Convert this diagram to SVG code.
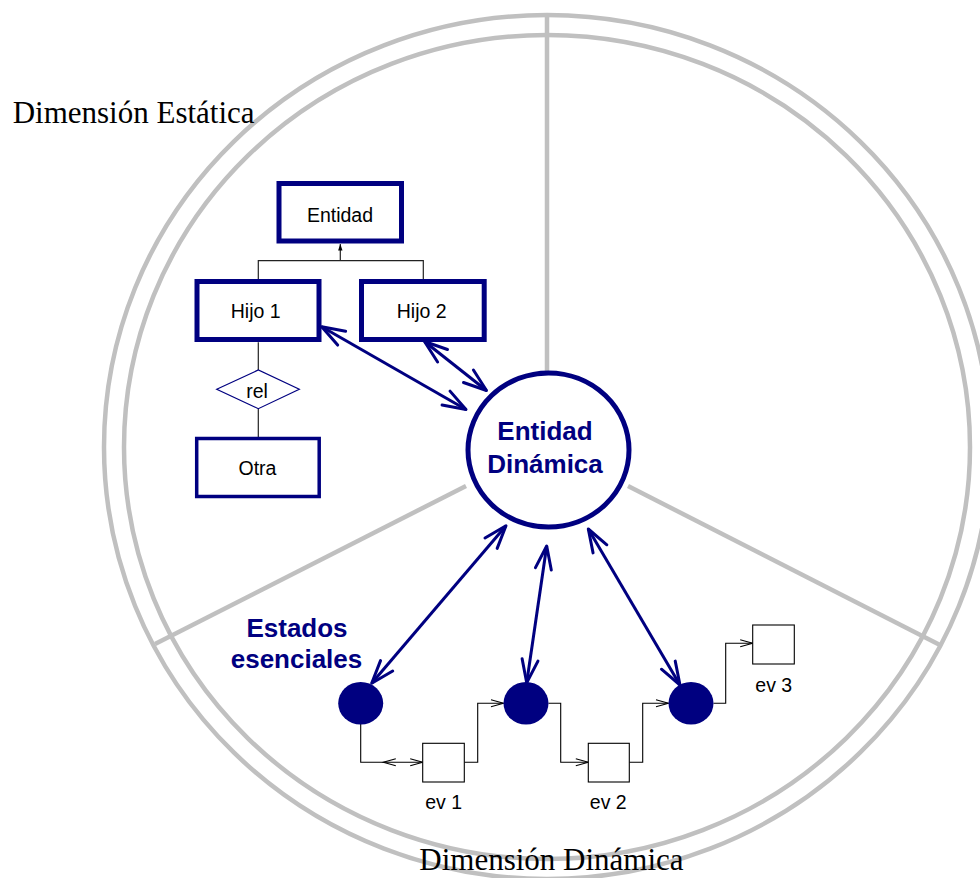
<svg xmlns="http://www.w3.org/2000/svg" width="980" height="878" viewBox="0 0 980 878">
  <style>
    .ring { fill: none; stroke: #c0c0c0; stroke-width: 4.5; }
    .spoke { stroke: #c0c0c0; stroke-width: 4.5; fill: none; }
    .dim { font-family: "Liberation Serif", "Times New Roman", serif; font-size: 31px; fill: #000; }
    .box { fill: #fff; stroke: #000080; stroke-width: 5; }
    .box-thin { fill: #fff; stroke: #000080; stroke-width: 3.5; }
    .lbl { font-family: "Liberation Sans", Arial, sans-serif; font-size: 19.5px; fill: #000; text-anchor: middle; }
    .big { font-family: "Liberation Sans", Arial, sans-serif; font-size: 26px; font-weight: bold; fill: #000080; text-anchor: middle; }
    .tree { stroke: #222; stroke-width: 1.2; fill: none; }
    .link { stroke: #000080; stroke-width: 3; fill: none; marker-start: url(#vhead); marker-end: url(#vhead); }
    .flow { stroke: #000; stroke-width: 1.1; fill: none; }
    .state { fill: #000080; }
    .ev { fill: #fff; stroke: #000; stroke-width: 1.1; }
  </style>
  <defs>
    <marker id="vhead" markerUnits="userSpaceOnUse" viewBox="-26 -10 30 20" refX="0" refY="0" markerWidth="30" markerHeight="20" orient="auto-start-reverse" overflow="visible">
      <path d="M-23,-8 L0,0 L-23,8" fill="none" stroke="#000080" stroke-width="3" stroke-linecap="round" stroke-linejoin="round"/>
    </marker>
    <marker id="thin" markerUnits="userSpaceOnUse" viewBox="-14 -5 16 10" refX="0" refY="0" markerWidth="16" markerHeight="10" orient="auto" overflow="visible">
      <path d="M-12.5,-3.5 L0,0 L-12.5,3.5" fill="none" stroke="#000" stroke-width="1.1"/>
    </marker>
    <marker id="tri" markerUnits="userSpaceOnUse" viewBox="-8 -4 10 8" refX="0" refY="0" markerWidth="10" markerHeight="8" orient="auto" overflow="visible">
      <path d="M-6.5,-2.2 L0,0 L-6.5,2.2 Z" fill="#000" stroke="none"/>
    </marker>
  </defs>

  <!-- double ring and the three sector dividers -->
  <g id="rings">
    <ellipse class="ring" cx="547" cy="447" rx="443" ry="432"/>
    <ellipse class="ring" cx="547" cy="447" rx="423" ry="412"/>
    <line class="spoke" x1="547" y1="15" x2="547" y2="372"/>
    <line class="spoke" x1="466" y1="486" x2="155" y2="644"/>
    <line class="spoke" x1="628" y1="486" x2="940" y2="645"/>
  </g>

  <text class="dim" x="12.7" y="123.3">Dimensión Estática</text>
  <text class="dim" x="419.3" y="870">Dimensión Dinámica</text>

  <!-- connectors -->
  <g id="connectors">
    <!-- generalisation tree -->
    <path class="tree" d="M340.3,260.7 V244" marker-end="url(#tri)"/>
    <path class="tree" d="M258.3,279 V260.7 H423.3 V279"/>
    <path class="tree" d="M258.3,342.3 V370"/>
    <path class="tree" d="M258.3,408.7 V437"/>
    <!-- links to the dynamic entity -->
    <path class="link" d="M321.7,326.7 L466,409.5"/>
    <path class="link" d="M424.5,341.5 L486.5,390.5"/>
    <path class="link" d="M506,525.7 L371.7,683.3"/>
    <path class="link" d="M546.7,546 L526.7,682.7"/>
    <path class="link" d="M588.3,529 L680,685"/>
    <!-- state / event flow -->
    <path class="flow" d="M360.7,724 V762.3 H422.7" marker-end="url(#thin)"/>
    <path class="flow" d="M395.8,758.8 L383.3,762.3 L395.8,765.8"/>
    <path class="flow" d="M464.3,762.3 H477.7 V703.3 H503.5" marker-end="url(#thin)"/>
    <path class="flow" d="M548.5,703.3 H560.7 V762.3 H588.3" marker-end="url(#thin)"/>
    <path class="flow" d="M629.3,762.3 H642.7 V703.3 H668.5" marker-end="url(#thin)"/>
    <path class="flow" d="M713.5,703.3 H725.7 V643.3 H752.7" marker-end="url(#thin)"/>
  </g>

  <g id="entidad">
    <rect class="box" x="279" y="183.5" width="122.5" height="57.5"/>
    <text class="lbl" x="340" y="221.7">Entidad</text>
  </g>
  <g id="hijo1">
    <rect class="box" x="197" y="281.5" width="122" height="58"/>
    <text class="lbl" x="255.7" y="318">Hijo 1</text>
  </g>
  <g id="hijo2">
    <rect class="box" x="361.5" y="281.5" width="122.7" height="58"/>
    <text class="lbl" x="421.7" y="318">Hijo 2</text>
  </g>
  <g id="rel">
    <polygon points="216.7,389.3 258.3,370 299.3,389.3 258.3,408.7" fill="#fff" stroke="#000080" stroke-width="1.2"/>
    <text class="lbl" x="257" y="397.7">rel</text>
  </g>
  <g id="otra">
    <rect class="box-thin" x="196.7" y="438.5" width="122.5" height="58"/>
    <text class="lbl" x="257.5" y="475">Otra</text>
  </g>

  <g id="entidad-dinamica">
    <ellipse cx="548.5" cy="450" rx="80.5" ry="77" fill="#fff" stroke="#000080" stroke-width="5"/>
    <text class="big" x="545" y="440">Entidad</text>
    <text class="big" x="545" y="472.7">Dinámica</text>
  </g>

  <g id="estados-label">
    <text class="big" x="297" y="637">Estados</text>
    <text class="big" x="296.5" y="668">esenciales</text>
  </g>

  <g id="estado1"><ellipse class="state" cx="360.7" cy="703.3" rx="22.5" ry="21.3"/></g>
  <g id="estado2"><ellipse class="state" cx="526" cy="703.3" rx="22.5" ry="21.3"/></g>
  <g id="estado3"><ellipse class="state" cx="691" cy="703.3" rx="22.5" ry="21.3"/></g>

  <g id="ev1">
    <rect class="ev" x="422.7" y="743.3" width="41.6" height="38.7"/>
    <text class="lbl" x="443.7" y="809">ev 1</text>
  </g>
  <g id="ev2">
    <rect class="ev" x="588.3" y="743.3" width="41" height="38.7"/>
    <text class="lbl" x="608.3" y="809">ev 2</text>
  </g>
  <g id="ev3">
    <rect class="ev" x="752.7" y="625" width="41.6" height="39"/>
    <text class="lbl" x="773.8" y="691.7">ev 3</text>
  </g>
</svg>
